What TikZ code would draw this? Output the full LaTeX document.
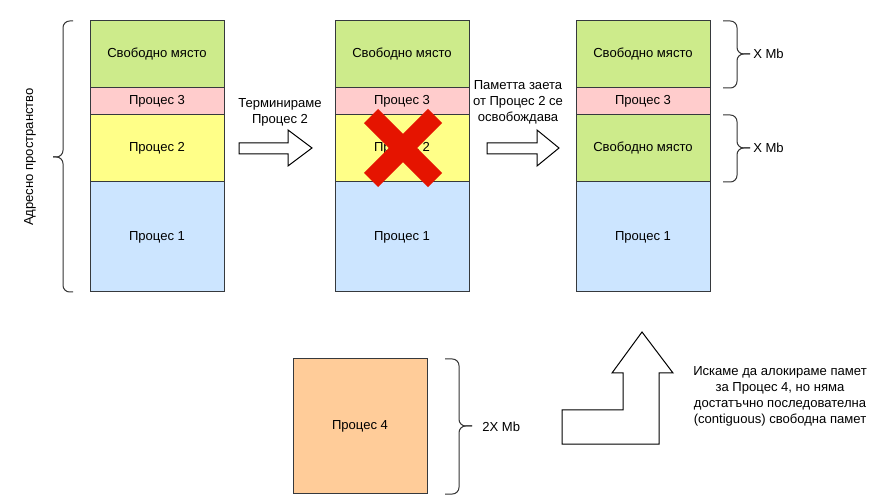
\documentclass[tikz,border=0pt]{standalone}
\usepackage{fontspec}
\setmainfont{Liberation Sans}
\usetikzlibrary{positioning}
\definecolor{freefill}{HTML}{CDEB8B}
\definecolor{pthreefill}{HTML}{FFCCCC}
\definecolor{ptwofill}{HTML}{FFFF88}
\definecolor{ponefill}{HTML}{CCE5FF}
\definecolor{pfourfill}{HTML}{FFCC99}
\definecolor{boxline}{HTML}{36393D}
\definecolor{crossred}{HTML}{E51400}
\tikzstyle{txt}=[font=\fontsize{9.8}{12}\selectfont]
\tikzstyle{blk}=[txt, draw=boxline, line width=0.75pt, minimum width=100.5pt, inner sep=0pt, outer sep=0pt]
\tikzstyle{freeblk}=[blk, fill=freefill, minimum height=50.25pt]
\tikzstyle{pthree}=[blk, fill=pthreefill, minimum height=20.25pt]
\tikzstyle{ptwo}=[blk, fill=ptwofill, minimum height=50.25pt]
\tikzstyle{pone}=[blk, fill=ponefill, minimum height=82.5pt]
\tikzstyle{pfour}=[blk, fill=pfourfill, minimum height=100.5pt]
\tikzstyle{brc}=[draw=black!80, line width=0.75pt, rounded corners=5pt]
\tikzstyle{blockarrow}=[draw=black, line width=0.75pt, fill=white]
\tikzstyle{crossline}=[draw=crossred, line width=15pt]

\begin{document}
\begin{tikzpicture}[x=0.75pt, y=-0.75pt]
\useasboundingbox (0,0) rectangle (881,498);
\node[freeblk, anchor=north west] (c1free) at (90,21) {Свободно място};
\node[pthree, below=0pt of c1free] (c1p3) {Процес 3};
\node[ptwo, below=0pt of c1p3] (c1p2) {Процес 2};
\node[pone, below=0pt of c1p2] (c1p1) {Процес 1};
\node[freeblk, anchor=north west] (c2free) at (335,21) {Свободно място};
\node[pthree, below=0pt of c2free] (c2p3) {Процес 3};
\node[ptwo, below=0pt of c2p3] (c2p2) {Процес 2};
\node[pone, below=0pt of c2p2] (c2p1) {Процес 1};
\node[freeblk, anchor=north west] (c3free) at (576,21) {Свободно място};
\node[pthree, below=0pt of c3free] (c3p3) {Процес 3};
\node[freeblk, below=0pt of c3p3] (c3free2) {Свободно място};
\node[pone, below=0pt of c3free2] (c3p1) {Процес 1};
\node[pfour, anchor=north west] (p4) at (293,359) {Процес 4};
\draw[crossline] (371,116) -- (435,180);
\draw[crossline] (371,180) -- (435,116);
\draw[brc] (73,21) -- (63,21) -- (63,157) -- (53,157);
\draw[brc] (73,292) -- (63,292) -- (63,157) -- (53,157);
\node[txt, rotate=90] (addr) at (30,157) {Адресно пространство};
\draw[brc] (723,21) -- (737,21) -- (737,54) -- (750,54);
\draw[brc] (723,88) -- (737,88) -- (737,54) -- (750,54);
\node[txt, anchor=west, inner sep=0pt] (xmb1) at (753,54) {X Mb};
\draw[brc] (723,115) -- (737,115) -- (737,148) -- (750,148);
\draw[brc] (723,182) -- (737,182) -- (737,148) -- (750,148);
\node[txt, anchor=west, inner sep=0pt] (xmb2) at (753,148) {X Mb};
\draw[brc] (445,359) -- (459,359) -- (459,426) -- (472,426);
\draw[brc] (445,494) -- (459,494) -- (459,426) -- (472,426);
\node[txt, anchor=west, inner sep=0pt] (xmb3) at (482,427) {2X Mb};
\draw[blockarrow] (239,143) -- (288,143) -- (288,130) -- (312,148) -- (288,166) -- (288,154) -- (239,154) -- cycle;
\node[txt, align=center] (term) at (280,112) {Терминираме\\Процес 2};
\draw[blockarrow] (487,143) -- (537,143) -- (537,130) -- (559,148) -- (537,166) -- (537,154) -- (487,154) -- cycle;
\node[txt, align=center] (freed) at (518,102) {Паметта заета\\от Процес 2 се\\освобождава};
\draw[blockarrow] (562,444) -- (562,410) -- (623,410) -- (623,373) -- (612,373) -- (642,332) -- (673,373) -- (659,373) -- (659,444) -- cycle;
\node[txt, align=center] (want) at (780,396) {Искаме да алокираме памет\\за Процес 4, но няма\\достатъчно последователна\\(contiguous) свободна памет};
\end{tikzpicture}
\end{document}
